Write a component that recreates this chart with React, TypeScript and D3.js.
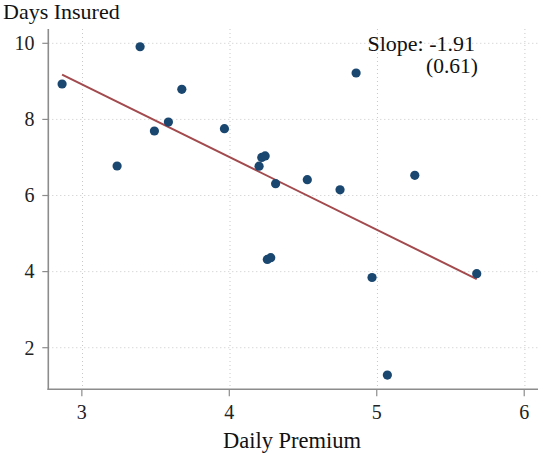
import React from "react";
import * as d3 from "d3";

// Daily premium (x) and days insured (y) for each observation
const premium = [2.866, 3.239, 3.395, 3.492, 3.587, 3.678, 3.967, 4.202, 4.22, 4.243,
  4.314, 4.529, 4.751, 4.86, 5.258, 4.258, 4.281, 4.968, 5.072, 5.678];
const daysInsured = [8.93, 6.775, 9.91, 7.695, 7.93, 8.79, 7.756, 6.77, 7.0, 7.04,
  6.31, 6.415, 6.15, 9.22, 6.53, 4.32, 4.365, 3.845, 1.28, 3.945];

const xTicks = [3, 4, 5, 6];
const yTicks = [2, 4, 6, 8, 10];

const fitSlope = -1.91;
const fitIntercept = 14.65;
const slopeLabel = "Slope: -1.91";
const seLabel = "(0.61)";

const width = 539, height = 456;
const left = 48.3, right = 538, top = 29, bottom = 389.3;
const font = "Liberation Serif";
const axisColor = "#8c8c8c";
const gridColor = "#c8c8c8";

export default function App() {
  const x = d3.scaleLinear().domain([2.7725, 6.0935]).range([left, right]);
  const y = d3.scaleLinear().domain([0.907, 10.376]).range([bottom, top]);
  const fmt = d3.format("d");
  const [xmin, xmax] = d3.extent(premium) as [number, number];

  return (
    <div style={{ position: "absolute", left: 0, top: 0 }}>
      <svg width={width} height={height} style={{ display: "block" }} fontFamily={font}>
        {/* gridlines */}
        {yTicks.map(t => (
          <line key={"gy" + t} x1={left} x2={right} y1={y(t)} y2={y(t)}
            stroke={gridColor} strokeWidth={1} strokeDasharray="1,3" />
        ))}
        {xTicks.map(t => (
          <line key={"gx" + t} x1={x(t) + 0.7} x2={x(t) + 0.7} y1={top} y2={bottom}
            stroke={gridColor} strokeWidth={1} strokeDasharray="1,3" />
        ))}

        {/* axes */}
        <line x1={left} x2={left} y1={top} y2={bottom + 0.8} stroke={axisColor} strokeWidth={1.6} />
        <line x1={left - 0.8} x2={right} y1={bottom} y2={bottom} stroke={axisColor} strokeWidth={1.6} />
        {yTicks.map(t => (
          <g key={"ty" + t}>
            <line x1={left - 6} x2={left} y1={y(t)} y2={y(t)} stroke={axisColor} strokeWidth={1.2} />
            <text x={34.5} y={y(t) + 6.8} textAnchor="end" fontSize={20} fill="#222">{fmt(t)}</text>
          </g>
        ))}
        {xTicks.map(t => (
          <g key={"tx" + t}>
            <line x1={x(t)} x2={x(t)} y1={bottom} y2={bottom + 7} stroke={axisColor} strokeWidth={1.2} />
            <text x={x(t)} y={419} textAnchor="middle" fontSize={20} fill="#222">{fmt(t)}</text>
          </g>
        ))}

        {/* fitted line */}
        <line x1={x(xmin)} y1={y(fitIntercept + fitSlope * xmin)}
          x2={x(xmax)} y2={y(fitIntercept + fitSlope * xmax)}
          stroke="#a24a4d" strokeWidth={2} />

        {/* points */}
        {premium.map((p, i) => (
          <circle key={"p" + i} cx={x(p)} cy={y(daysInsured[i])} r={4.6} fill="#1a476f" />
        ))}

        {/* labels */}
        <text x={3} y={19} fontSize={22} fill="#111">Days Insured</text>
        <text x={292} y={448} textAnchor="middle" fontSize={22.5} fill="#111">Daily Premium</text>
        <text x={475} y={51} textAnchor="end" fontSize={22} fill="#111">{slopeLabel}</text>
        <text x={478} y={73} textAnchor="end" fontSize={21.5} fill="#111">{seLabel}</text>
      </svg>
    </div>
  );
}
